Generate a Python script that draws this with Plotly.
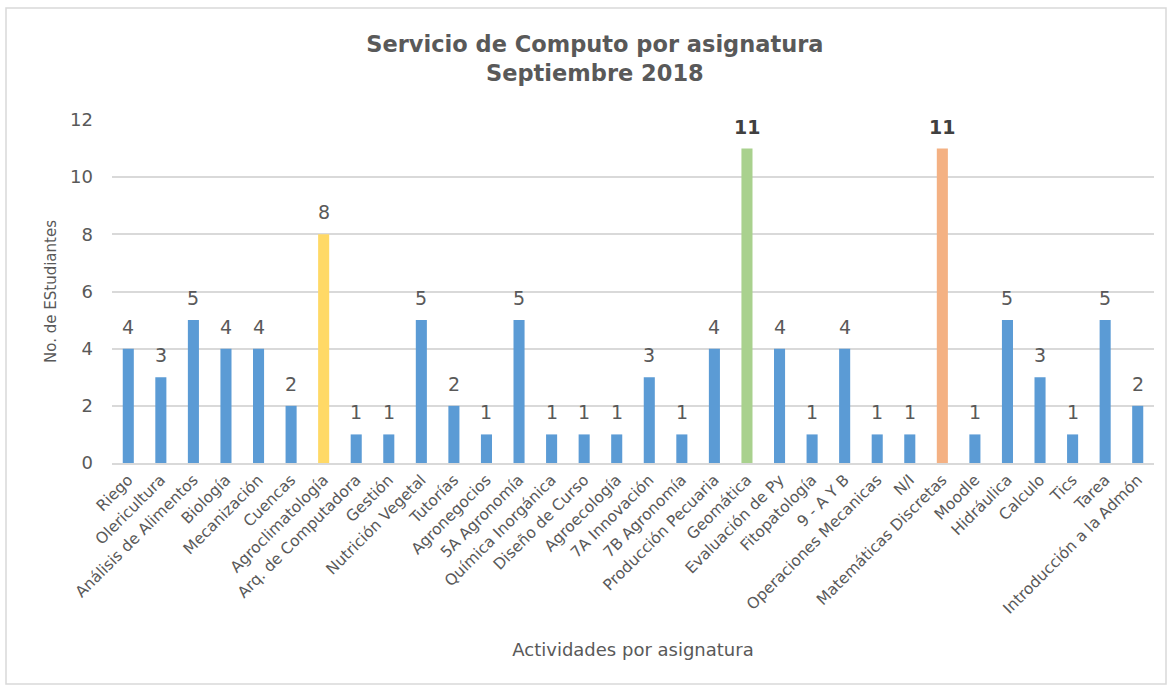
import plotly.graph_objects as go

categories = ["Riego", "Olericultura", "Análisis de Alimentos", "Biología", "Mecanización",
              "Cuencas", "Agroclimatología", "Arq. de Computadora", "Gestión", "Nutrición Vegetal",
              "Tutorías", "Agronegocios", "5A Agronomía", "Química Inorgánica", "Diseño de Curso",
              "Agroecología", "7A Innovación", "7B Agronomía", "Producción Pecuaria", "Geomática",
              "Evaluación de Py", "Fitopatología", "9 - A Y B", "Operaciones Mecanicas", "N/I",
              "Matemáticas Discretas", "Moodle", "Hidráulica", "Calculo", "Tics", "Tarea",
              "Introducción a la Admón"]
values = [4, 3, 5, 4, 4, 2, 8, 1, 1, 5, 2, 1, 5, 1, 1, 1, 3, 1, 4, 11, 4, 1, 4, 1, 1, 11,
          1, 5, 3, 1, 5, 2]
highlight = {"Agroclimatología": "#FFD966", "Geomática": "#A9D18E", "Matemáticas Discretas": "#F4B183"}
bold_labels = ["Geomática", "Matemáticas Discretas"]
base_color = "#5B9BD5"

colors = [highlight.get(c, base_color) for c in categories]

FONT = "DejaVu Sans"
GRAY = "#595959"

fig = go.Figure()
fig.add_trace(go.Bar(x=categories, y=values, marker=dict(color=colors, line=dict(width=0)),
                     hoverinfo="x+y"))

for c, v in zip(categories, values):
    isb = c in bold_labels
    fig.add_annotation(x=c, y=v, text=f"<b>{v}</b>" if isb else str(v), showarrow=False,
                       yanchor="bottom", yshift=9,
                       font=dict(family=FONT, size=19, color="#404040" if isb else GRAY))

W, H = 1171, 688
L, R, T, B = 112, 17, 120, 225
pw, ph = W - L - R, H - T - B
fig.add_shape(type="rect", xref="paper", yref="paper",
              x0=(6 - L) / pw, x1=(1166 - L) / pw,
              y0=(H - B - 684) / ph, y1=(H - B - 8) / ph,
              line=dict(color="#D9D9D9", width=1.5), fillcolor="rgba(0,0,0,0)", layer="below")

fig.update_layout(
    width=W, height=H,
    margin=dict(l=L, r=R, t=T, b=B),
    paper_bgcolor="white", plot_bgcolor="white",
    bargap=0.66,
    showlegend=False,
    title=dict(text="<b>Servicio de Computo por asignatura<br>Septiembre 2018</b>",
               x=0.508, xanchor="center", y=1 - 52 / H, yanchor="middle",
               font=dict(family=FONT, size=22.5, color=GRAY)),
    font=dict(family=FONT, color=GRAY),
)
fig.update_xaxes(
    tickangle=-45, tickfont=dict(family=FONT, size=15.5, color=GRAY),
    showline=True, linecolor="#D9D9D9", linewidth=1.5, ticks="",
    title=dict(text="Actividades por asignatura", font=dict(family=FONT, size=18, color=GRAY),
               standoff=27),
)
fig.update_yaxes(
    range=[0, 12], dtick=2, tickfont=dict(family=FONT, size=18, color=GRAY),
    showgrid=True, gridcolor="#D9D9D9", gridwidth=1.5, zeroline=False, ticks="",
    ticklabelstandoff=18,
    title=dict(text="No. de EStudiantes", font=dict(family=FONT, size=15, color=GRAY), standoff=9),
)

fig.write_html("out.html", post_script="document.body.style.margin='0px';",
               config={"displayModeBar": False})
